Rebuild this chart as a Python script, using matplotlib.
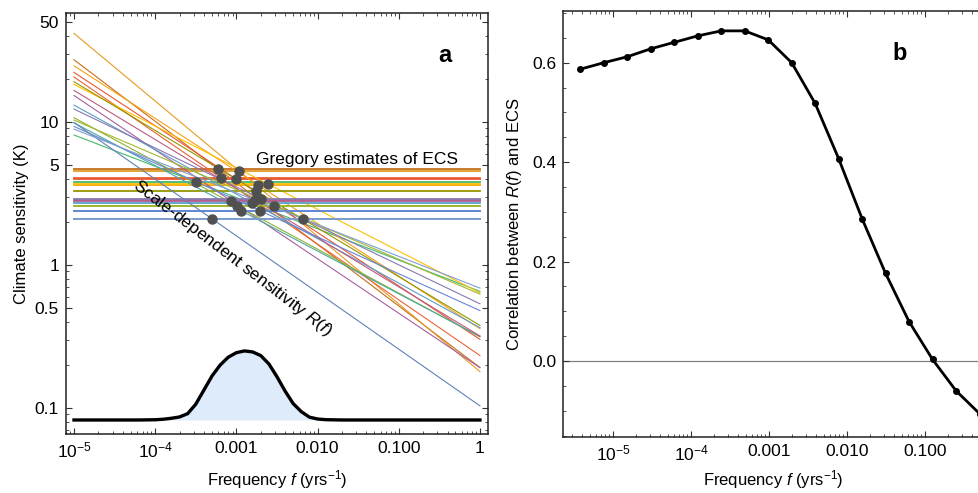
import matplotlib.pyplot as plt
import numpy as np
from matplotlib.ticker import FixedLocator, FixedFormatter, LogLocator, MultipleLocator, NullFormatter

plt.rcParams['font.family'] = ['Liberation Sans', 'DejaVu Sans']
plt.rcParams['mathtext.fontset'] = 'custom'
plt.rcParams['mathtext.rm'] = 'Liberation Sans'
plt.rcParams['mathtext.it'] = 'Liberation Sans:italic'
plt.rcParams['mathtext.bf'] = 'Liberation Sans:bold'

# panel a: per-model Gregory ECS, frequency where R(f) crosses it, R at f=1e-5
ecs = [4.69, 4.54, 3.80, 4.06, 3.99, 3.62, 3.68, 3.29, 2.81, 2.59, 2.39, 2.72, 2.85, 2.90, 2.59, 2.39, 2.10, 2.10]
cross_freq = [5.93e-4, 1.08e-3, 3.18e-4, 6.46e-4, 9.9e-4, 1.85e-3, 2.45e-3, 1.74e-3, 8.57e-4,
              1.02e-3, 1.14e-3, 1.56e-3, 1.69e-3, 2.01e-3, 2.90e-3, 1.95e-3, 5.0e-4, 6.6e-3]
r_low = [27.2, 41.6, 8.1, 20.6, 22.2, 24.7, 18.3, 19.1, 15.3, 10.7, 9.84, 13.1, 16.6, 12.3, 10.3, 9.3, 9.9, 8.9]
model_colors = ['#C56E1A', '#E19C24', '#47B66D', '#EB6235', '#E95536', '#F89F13', '#FFBF00', '#929600',
                '#A5609D', '#8FB032', '#4AA9A0', '#5D9EC7', '#BC5B80', '#8778B3', '#A0B82E', '#6685D9',
                '#5E81B5', '#7F9FCF']

# weighting curve (bottom of panel a)
pdf_logf = [-5.0, -4.2, -4.0, -3.9, -3.8, -3.7, -3.6, -3.5, -3.4, -3.3, -3.2, -3.1, -3.0, -2.9, -2.8,
            -2.7, -2.6, -2.5, -2.4, -2.3, -2.2, -2.1, -2.0, -1.9, -1.7, 0.0]
pdf_vals = [0.0822, 0.0822, 0.0825, 0.0832, 0.0845, 0.0863, 0.0910, 0.106, 0.133, 0.167, 0.199, 0.226,
            0.243, 0.250, 0.246, 0.232, 0.203, 0.165, 0.131, 0.107, 0.094, 0.0860, 0.0835, 0.0826,
            0.0822, 0.0822]
pdf_base = 0.0822

# panel b
freq_b = [1/262144, 1/131072, 1/65536, 1/32768, 1/16384, 1/8192, 1/4096, 1/2048, 1/1024,
          1/512, 1/256, 1/128, 1/64, 1/32, 1/16, 1/8, 1/4, 1/2]
corr_b = [0.587, 0.600, 0.612, 0.628, 0.641, 0.654, 0.664, 0.664, 0.646, 0.600, 0.518, 0.407,
          0.286, 0.176, 0.079, 0.003, -0.060, -0.106]

xticks = [1e-5, 1e-4, 1e-3, 1e-2, 1e-1, 1]
xticklabels = ['$10^{-5}$', '$10^{-4}$', '0.001', '0.010', '0.100', '1']

fig = plt.figure(figsize=(9.79, 4.93), dpi=100)
ax = fig.add_axes([0.0674, 0.1197, 0.431, 0.854])
bx = fig.add_axes([0.5751, 0.1136, 0.4295, 0.8641])

f_end = np.array([1e-5, 1.0])
for e, fc, r0, c in zip(ecs, cross_freq, r_low, model_colors):
    b = np.log(r0 / e) / np.log(fc / 1e-5)
    ax.plot(f_end, e * (f_end / fc) ** (-b), color=c, lw=0.8, zorder=2)
    ax.plot(f_end, [e, e], color=c, lw=1.3, zorder=2)
ax.plot(cross_freq, ecs, 'o', color='#505050', ms=6.5, zorder=5)

pf = 10 ** np.array(pdf_logf)
ax.fill_between(pf, pdf_base, pdf_vals, color='#DDEBFA', lw=0, zorder=1)
ax.plot(pf, pdf_vals, color='black', lw=2.4, zorder=4)

ax.set_xscale('log')
ax.set_yscale('log')
ax.set_xlim(10 ** -5.0985, 10 ** 0.0985)
ax.set_ylim(0.0656, 57.8)
ax.xaxis.set_major_locator(FixedLocator(xticks))
ax.xaxis.set_major_formatter(FixedFormatter(xticklabels))
ax.xaxis.set_minor_locator(LogLocator(base=10, subs=np.arange(2, 10)))
ax.xaxis.set_minor_formatter(NullFormatter())
ax.yaxis.set_major_locator(FixedLocator([0.1, 0.5, 1, 5, 10, 50]))
ax.yaxis.set_major_formatter(FixedFormatter(['0.1', '0.5', '1', '5', '10', '50']))
ax.yaxis.set_minor_locator(LogLocator(base=10, subs=np.arange(2, 10)))
ax.yaxis.set_minor_formatter(NullFormatter())
ax.set_xlabel('Frequency $f$ (yrs$^{-1}$)', fontsize=12, labelpad=5)
ax.set_ylabel('Climate sensitivity (K)', fontsize=12, labelpad=4)

ax.text(1.74e-3, 5.45, 'Gregory estimates of ECS', fontsize=12.5, ha='left', va='center', zorder=6)
ax.text(9.1e-4, 1.12, 'Scale-dependent sensitivity $R$($f$)', fontsize=12.5, rotation=-37.4,
        rotation_mode='anchor', ha='center', va='center', zorder=6)
ax.text(0.898, 0.90, 'a', transform=ax.transAxes, fontsize=17, fontweight='bold', ha='center', va='center')

bx.axhline(0, color='#808080', lw=0.9, zorder=1)
bx.plot(freq_b, corr_b, '-o', color='black', lw=2, ms=4, zorder=3)
bx.set_xscale('log')
bx.set_xlim(10 ** -5.641, 10 ** -0.25)
bx.set_ylim(-0.153, 0.704)
bx.xaxis.set_major_locator(FixedLocator(xticks))
bx.xaxis.set_major_formatter(FixedFormatter(xticklabels))
bx.xaxis.set_minor_locator(LogLocator(base=10, subs=np.arange(2, 10)))
bx.xaxis.set_minor_formatter(NullFormatter())
bx.yaxis.set_major_locator(FixedLocator([0.0, 0.2, 0.4, 0.6]))
bx.yaxis.set_major_formatter(FixedFormatter(['0.0', '0.2', '0.4', '0.6']))
bx.yaxis.set_minor_locator(MultipleLocator(0.05))
bx.set_xlabel('Frequency $f$ (yrs$^{-1}$)', fontsize=12, labelpad=3)
bx.set_ylabel('Correlation between $R$($f$) and ECS', fontsize=12, labelpad=6)
bx.text(0.801, 0.901, 'b', transform=bx.transAxes, fontsize=17, fontweight='bold', ha='center', va='center')

for a in (ax, bx):
    a.tick_params(which='both', direction='in', top=True, right=True, labelsize=12.5, color='#333333')
    a.tick_params(which='major', length=4, width=0.8, pad=5)
    a.tick_params(which='minor', length=2.2, width=0.6)
    for s in a.spines.values():
        s.set_linewidth(1.1)
        s.set_color('#222222')

fig.savefig('out.png', dpi=100)
